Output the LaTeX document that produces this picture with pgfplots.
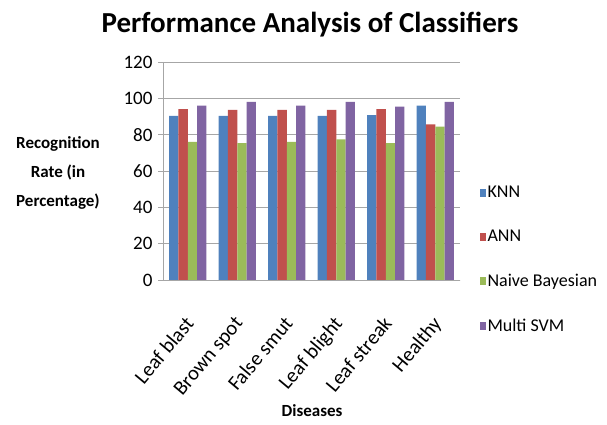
\documentclass[border=0pt]{standalone}
\usepackage{pgfplots}
\pgfplotsset{compat=1.18}
\usepackage{fontspec}
\setmainfont{Carlito}

\definecolor{knn}{HTML}{4F81BD}
\definecolor{ann}{HTML}{C0504D}
\definecolor{nb}{HTML}{9BBB59}
\definecolor{svm}{HTML}{8064A2}
\definecolor{gridgray}{HTML}{A6A6A6}

\pgfplotstableread{
x knn  ann  nb   svm
0 90.3 94.1 76.0 96.0
1 90.3 93.6 75.4 98.0
2 90.3 93.6 76.0 96.0
3 90.3 93.6 77.4 98.0
4 90.8 94.1 75.4 95.4
5 96.0 85.7 84.4 98.0
}\rates

\begin{document}
\begin{tikzpicture}
\useasboundingbox (-163pt,-145pt) rectangle (444pt,280pt);
\begin{axis}[
  name=ax,
  at={(0pt,0pt)}, anchor=south west,
  scale only axis, width=297pt, height=218pt,
  ybar=0pt, bar width=9.3pt,
  xmin=-0.5, xmax=5.5, ymin=0, ymax=120,
  ytick={0,20,...,120},
  xtick={0,...,5},
  xticklabels={Leaf blast,Brown spot,False smut,Leaf blight,Leaf streak,Healthy},
  major x tick style={draw=none},
  y tick style={draw=gridgray, thick},
  major tick length=5pt,
  tick align=outside,
  xtick pos=bottom, ytick pos=left,
  axis line style={draw opacity=0},
  ymajorgrids, grid style={draw=gridgray, thick},
  /pgf/number format/assume math mode=true,
  yticklabel style={font=\fontsize{19}{22}\selectfont, xshift=-2pt},
  xticklabel style={font=\fontsize{20.5}{24}\selectfont, rotate=50, anchor=north east, xshift=-22pt, yshift=-13pt},
  legend style={at={(1.055,0.45)}, anchor=north west, draw=none, fill=none,
    font=\fontsize{18}{21}\selectfont, row sep=27pt},
  legend cell align=left,
  legend image code/.code={\fill[#1] (1pt,-4pt) rectangle (7pt,4pt);},
]
\addplot[fill=knn, draw=none] table[x=x, y=knn] {\rates};
\addplot[fill=ann, draw=none] table[x=x, y=ann] {\rates};
\addplot[fill=nb, draw=none] table[x=x, y=nb] {\rates};
\addplot[fill=svm, draw=none] table[x=x, y=svm] {\rates};
\legend{KNN, ANN, Naive Bayesian, Multi SVM}
% group separator ticks below the x axis
\pgfplotsinvokeforeach{-0.5,0.5,1.5,2.5,3.5,4.5,5.5}{
  \draw[gridgray, thick] (axis cs:#1,0) -- ++(0pt,-6pt);
}
\end{axis}
% left and bottom axis lines only
\draw[gridgray, thick] (ax.north west) -- (ax.south west) -- (ax.south east);
\node[font=\fontsize{29}{34}\selectfont\bfseries] at (147pt,255pt) {Performance Analysis of Classifiers};
\node[font=\fontsize{17}{29}\selectfont\bfseries, align=center] at (-105pt,107pt) {Recognition\\Rate (in\\Percentage)};
\node[font=\fontsize{17}{20}\selectfont\bfseries] at (149pt,-131pt) {Diseases};
\end{tikzpicture}
\end{document}
